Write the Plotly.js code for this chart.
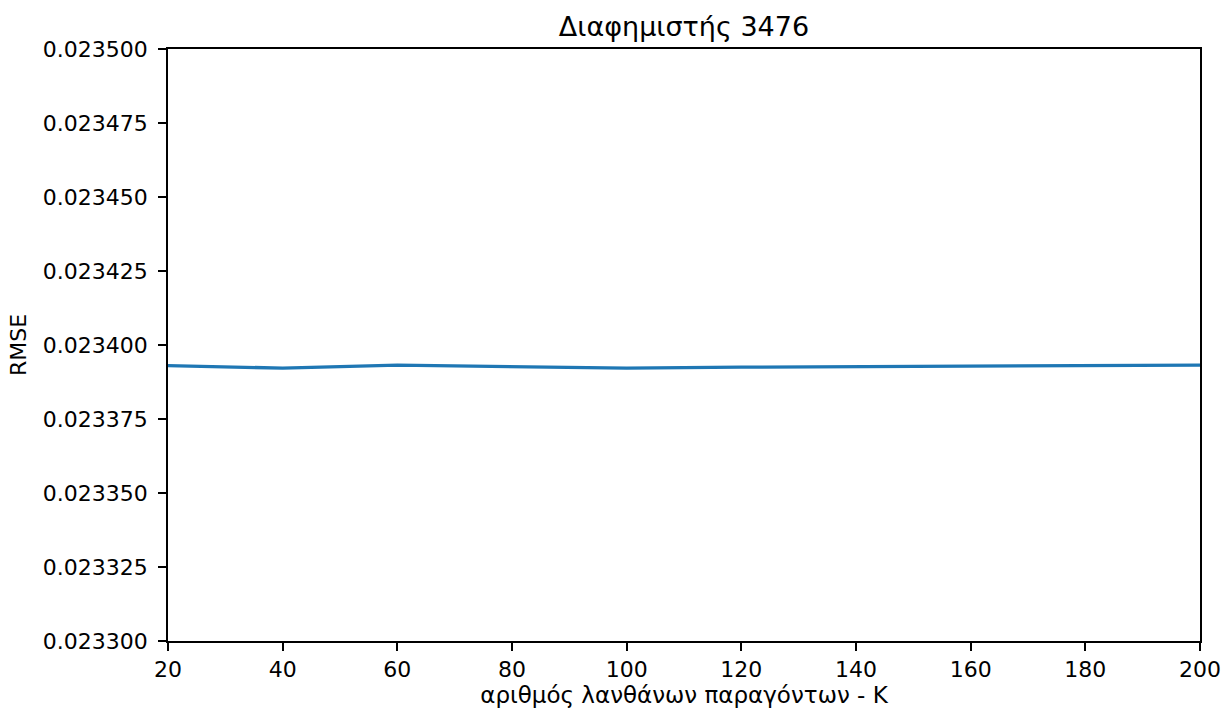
<!DOCTYPE html>
<html>
<head>
<meta charset="utf-8">
<script src="https://cdn.plot.ly/plotly-3.0.1.min.js"></script>
<style>html,body{margin:0;padding:0;background:#fff;}</style>
</head>
<body>
<div id="chart" style="width:1225px;height:711px;"></div>
<script>
const K = [20, 40, 60, 80, 100, 120, 140, 160, 180, 200];
const rmse = [0.0233930, 0.0233922, 0.0233932, 0.0233928, 0.0233922, 0.0233925, 0.0233927, 0.0233929, 0.0233931, 0.0233932];
const titleText = 'Διαφημιστής 3476';
const xLabel = 'αριθμός λανθάνων παραγόντων - K';
const yLabel = 'RMSE';

const font = {family: 'DejaVu Sans, sans-serif', size: 22, color: '#000'};

Plotly.newPlot('chart', [{
  x: K, y: rmse, type: 'scatter', mode: 'lines',
  line: {color: '#1f77b4', width: 3.3},
  hoverinfo: 'skip'
}], {
  width: 1225, height: 711,
  margin: {l: 168, r: 25, t: 49, b: 70},
  paper_bgcolor: '#fff', plot_bgcolor: '#fff',
  font: font,
  showlegend: false,
  title: {text: titleText, font: {family: font.family, size: 27, color: '#000'},
          x: 0.5, xref: 'paper', xanchor: 'center', y: 1 - 27/711, yanchor: 'middle', yref: 'container'},
  xaxis: {
    range: [20, 200], tick0: 20, dtick: 20, tickmode: 'linear',
    showgrid: false, zeroline: false,
    showline: true, mirror: true, linecolor: '#000', linewidth: 1.8,
    ticks: 'outside', ticklen: 8, tickwidth: 1.8, tickcolor: '#000',
    tickfont: font,
    title: {text: xLabel, font: {family: font.family, size: 23, color: '#000'}, standoff: 2}
  },
  yaxis: {
    range: [0.0233, 0.0235], tick0: 0.0233, dtick: 0.000025, tickmode: 'linear',
    tickformat: '.6f',
    showgrid: false, zeroline: false,
    showline: true, mirror: true, linecolor: '#000', linewidth: 1.8,
    ticks: 'outside', ticklen: 8, tickwidth: 1.8, tickcolor: '#000',
    ticklabelstandoff: 6,
    tickfont: font,
    title: {text: yLabel, font: font, standoff: 10}
  }
}, {displayModeBar: false, staticPlot: true});
</script>
</body>
</html>
